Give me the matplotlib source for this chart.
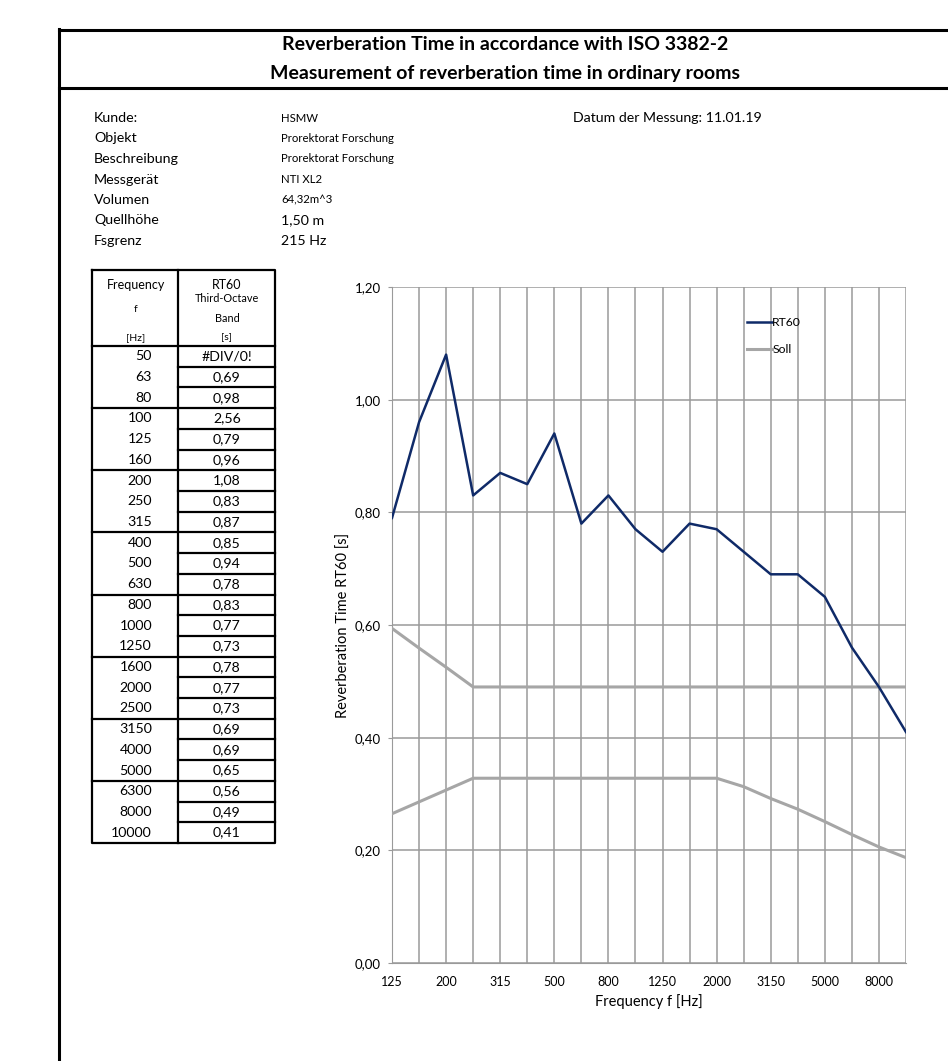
import matplotlib.pyplot as plt
import numpy as np

plt.rcParams['font.family'] = ['Lato', 'DejaVu Sans']

# measurement table (third-octave bands)
freqs = [50, 63, 80, 100, 125, 160, 200, 250, 315, 400, 500, 630,
         800, 1000, 1250, 1600, 2000, 2500, 3150, 4000, 5000, 6300, 8000, 10000]
rt60 = [np.nan, 0.69, 0.98, 2.56, 0.79, 0.96, 1.08, 0.83, 0.87, 0.85, 0.94, 0.78,
        0.83, 0.77, 0.73, 0.78, 0.77, 0.73, 0.69, 0.69, 0.65, 0.56, 0.49, 0.41]

# chart range 125 Hz .. 10 kHz
chart_freqs = freqs[4:]
chart_rt60 = rt60[4:]
soll_upper = [0.594, 0.559, 0.525, 0.49, 0.49, 0.49, 0.49, 0.49, 0.49, 0.49,
              0.49, 0.49, 0.49, 0.49, 0.49, 0.49, 0.49, 0.49, 0.49, 0.49]
soll_lower = [0.265, 0.286, 0.307, 0.328, 0.328, 0.328, 0.328, 0.328, 0.328, 0.328,
              0.328, 0.328, 0.328, 0.313, 0.292, 0.273, 0.251, 0.228, 0.206, 0.187]

info_labels = ['Kunde:', 'Objekt', 'Beschreibung', 'Messgerät', 'Volumen', 'Quellhöhe', 'Fsgrenz']
info_values = ['HSMW', 'Prorektorat Forschung', 'Prorektorat Forschung', 'NTI XL2',
               '64,32m^3', '1,50 m', '215 Hz']
info_small = [True, True, True, True, True, False, False]

W, H = 948, 1061
fig = plt.figure(figsize=(W / 100, H / 100), dpi=100)

# page overlay in pixel coordinates
bg = fig.add_axes([0, 0, 1, 1])
bg.set_xlim(0, W)
bg.set_ylim(H, 0)
bg.axis('off')

# frame and title
bg.plot([59, W], [30, 30], color='black', lw=2.2)
bg.plot([59, W], [88, 88], color='black', lw=2.2)
bg.plot([59, 59], [29, H], color='black', lw=2.2)
bg.text(505, 44, 'Reverberation Time in accordance with ISO 3382-2', ha='center', va='center',
        fontsize=14, fontweight='bold')
bg.text(505, 73, 'Measurement of reverberation time in ordinary rooms', ha='center', va='center',
        fontsize=14, fontweight='bold')

# info block
for i, (lab, val, small) in enumerate(zip(info_labels, info_values, info_small)):
    y = 118 + i * 20.5
    bg.text(94, y, lab, ha='left', va='center', fontsize=10.3)
    bg.text(281, y, val, ha='left', va='center', fontsize=8.2 if small else 10.2)
bg.text(573, 118, 'Datum der Messung: 11.01.19', ha='left', va='center', fontsize=10.2)

# table
tx0, tx1, tx2 = 92, 178, 275
ty0, th = 270, 346
row_h = (843 - th) / len(freqs)
lw_t = 1.6
bg.plot([tx0, tx2, tx2, tx0, tx0], [ty0, ty0, 843, 843, ty0], color='black', lw=lw_t)
bg.plot([tx1, tx1], [ty0, 843], color='black', lw=lw_t)
bg.plot([tx0, tx2], [th, th], color='black', lw=lw_t)
bg.text(136, 285, 'Frequency', ha='center', va='center', fontsize=9)
bg.text(136, 310, 'f', ha='center', va='center', fontsize=7.5)
bg.text(136, 338, '[Hz]', ha='center', va='center', fontsize=7.5)
bg.text(227, 285, 'RT60', ha='center', va='center', fontsize=9)
bg.text(227, 299, 'Third-Octave', ha='center', va='center', fontsize=7.8)
bg.text(227, 318, 'Band', ha='center', va='center', fontsize=7.8)
bg.text(227, 338, '[s]', ha='center', va='center', fontsize=7.5)
for i, (f, v) in enumerate(zip(freqs, rt60)):
    yc = th + (i + 0.5) * row_h
    bg.text(152, yc, str(f), ha='right', va='center', fontsize=10.2)
    txt = '#DIV/0!' if np.isnan(v) else f'{v:.2f}'.replace('.', ',')
    bg.text(227, yc, txt, ha='center', va='center', fontsize=10.2)
    if i > 0:
        yl = th + i * row_h
        if i % 3 == 0:
            bg.plot([tx0, tx2], [yl, yl], color='black', lw=lw_t)
        else:
            bg.plot([tx1, tx2], [yl, yl], color='black', lw=lw_t)

# chart
ax = fig.add_axes([392 / W, 1 - 963 / H, 514 / W, 676 / H])
x = np.arange(len(chart_freqs))
grid_c = '#9a9a9a'
ax.plot(x, soll_upper, color='#a6a6a6', lw=2.2, label='Soll', zorder=3)
ax.plot(x, soll_lower, color='#a6a6a6', lw=2.2, zorder=3)
ax.plot(x, chart_rt60, color='#0f2a68', lw=1.8, label='RT60', zorder=4)
ax.set_xlim(0, len(chart_freqs) - 1)
ax.set_ylim(0, 1.2)
ax.set_xticks(x)
ax.set_xticklabels([str(f) if i % 2 == 0 else '' for i, f in enumerate(chart_freqs)], fontsize=9)
yt = np.arange(0, 1.21, 0.2)
ax.set_yticks(yt)
ax.set_yticklabels([f'{v:.2f}'.replace('.', ',') for v in yt], fontsize=9.5)
ax.grid(True, color=grid_c, lw=1.1)
for s in ['top', 'right']:
    ax.spines[s].set_visible(False)
for s in ['left', 'bottom']:
    ax.spines[s].set_color(grid_c)
ax.tick_params(axis='y', color=grid_c, length=3, pad=5)
ax.tick_params(axis='x', length=0, pad=9)
ax.set_xlabel('Frequency f [Hz]', fontsize=10.5, labelpad=5)
ax.set_ylabel('Reverberation Time RT60 [s]', fontsize=10.5, labelpad=3)
handles, labels = ax.get_legend_handles_labels()
leg = ax.legend([handles[1], handles[0]], [labels[1], labels[0]], loc='upper left',
                bbox_to_anchor=(741 / W, 1 - 311 / H), bbox_transform=fig.transFigure,
                frameon=False, fontsize=8.8, handlelength=2.0, handletextpad=0.05,
                labelspacing=1.3, borderpad=0)

fig.savefig('out.png', dpi=100)
